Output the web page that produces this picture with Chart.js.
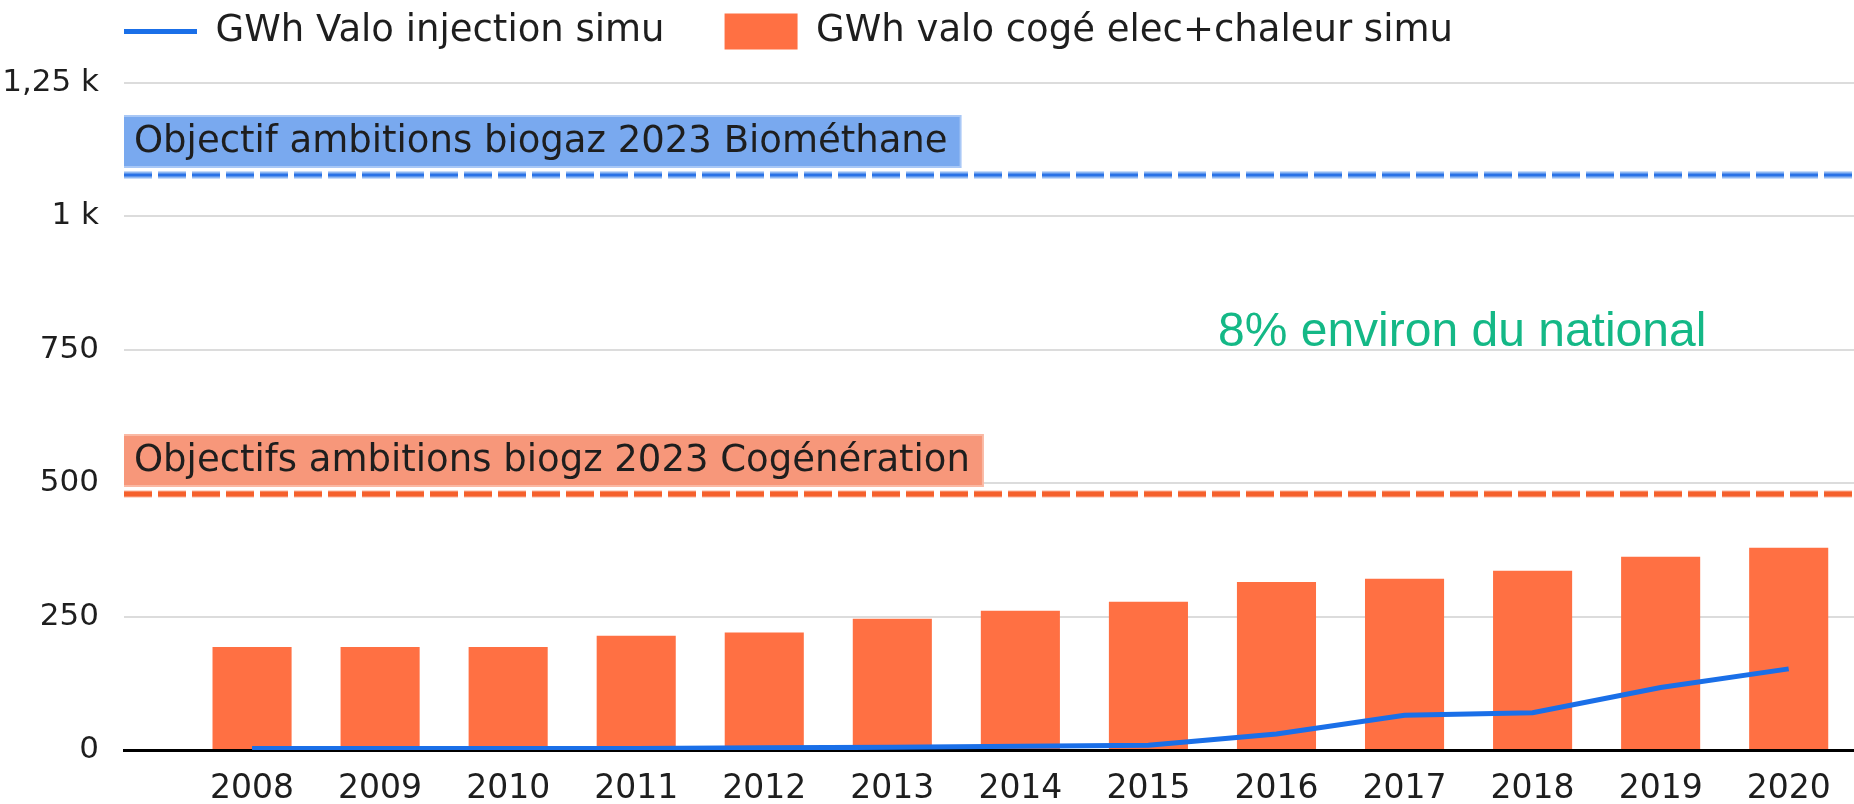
<!DOCTYPE html>
<html>
<head>
<meta charset="utf-8">
<script src="https://cdn.jsdelivr.net/npm/chart.js@4"></script>
<style>
  html, body { margin: 0; padding: 0; background: #fff; overflow: hidden; }
  #wrap { width: 1854px; height: 804px; }
</style>
</head>
<body>
<div id="wrap"><canvas id="chart"></canvas></div>
<script>
// data
const years = [2008, 2009, 2010, 2011, 2012, 2013, 2014, 2015, 2016, 2017, 2018, 2019, 2020];
const injectionGwh = [3, 3, 3, 3, 4, 5, 7, 9, 30, 65, 70, 117, 152];
const cogenGwh = [193, 193, 193, 214, 220, 246, 261, 278, 315, 321, 336, 362, 379];
const yTickValues = [0, 250, 500, 750, 1000, 1250];
const seriesNames = ["GWh Valo injection simu", "GWh valo cogé elec+chaleur simu"];

// objectives (reference lines)
const targetBiomethane = 1077;
const targetCogen = 480;
const targetLabels = ["Objectif ambitions biogaz 2023 Biométhane", "Objectifs ambitions biogz 2023 Cogénération"];
const noteText = "8% environ du national";
const notePos = { x: 2017.45, y: 752 };

const FONT = "DejaVu Sans";

// reference lines + labels + green note
const targetLines = {
  id: "targetLines",
  afterDatasetsDraw(chart) {
    const { ctx, chartArea } = chart;
    const x = chart.scales.x;
    const y = chart.scales.y;

    function dashed(value, outer, inner, outerW, innerW) {
      const py = Math.round(y.getPixelForValue(value));
      ctx.save();
      ctx.setLineDash([28, 6]);
      ctx.lineWidth = outerW;
      ctx.strokeStyle = outer;
      ctx.beginPath();
      ctx.moveTo(chartArea.left, py);
      ctx.lineTo(chartArea.right, py);
      ctx.stroke();
      ctx.lineWidth = innerW;
      ctx.strokeStyle = inner;
      ctx.beginPath();
      ctx.moveTo(chartArea.left, py);
      ctx.lineTo(chartArea.right, py);
      ctx.stroke();
      ctx.restore();
      return py;
    }

    function label(text, lineY, bg, edge) {
      ctx.save();
      ctx.font = "37px '" + FONT + "'";
      const w = ctx.measureText(text).width + 22;
      const h = 49;
      const top = lineY - 9 - h;
      ctx.fillStyle = edge;
      ctx.fillRect(chartArea.left, top - 2, w + 2, h + 4);
      ctx.fillStyle = bg;
      ctx.fillRect(chartArea.left, top, w, h);
      ctx.fillStyle = "#1e1e1e";
      ctx.textBaseline = "middle";
      ctx.fillText(text, chartArea.left + 10, top + h / 2 + 1);
      ctx.restore();
    }

    const yb = dashed(targetBiomethane, "#8fb8f2", "#2a72e6", 7, 3);
    const yc = dashed(targetCogen, "#fbb49c", "#f5602c", 7, 5);
    label(targetLabels[0], yb, "#79a9ef", "#a9c8f6");
    label(targetLabels[1], yc, "#f7977a", "#fab9a4");

    ctx.save();
    ctx.font = "48px 'Liberation Sans'";
    ctx.fillStyle = "#14b886";
    ctx.textAlign = "center";
    ctx.textBaseline = "alphabetic";
    ctx.fillText(noteText, x.getPixelForValue(notePos.x), y.getPixelForValue(notePos.y) - 3);
    ctx.restore();
  }
};

// put the legend where the original has it
const legendPlace = {
  id: "legendPlace",
  beforeLayout(chart) {
    const lg = chart.legend;
    if (lg && !lg._patched) {
      const fit = lg.fit;
      lg.fit = function () {
        fit.call(this);
        this.height = 83;
      };
      lg._patched = true;
    }
  },
  afterLayout(chart) {
    const lg = chart.legend;
    const pad = lg.options.labels.padding;
    lg.left = chart.chartArea.left - pad;
    lg.top = 13 - pad;
    lg.bottom = 70;
  }
};

new Chart(document.getElementById("chart"), {
  type: "bar",
  data: {
    datasets: [
      {
        type: "line",
        label: seriesNames[0],
        data: years.map((yr, i) => ({ x: yr, y: injectionGwh[i] })),
        borderColor: "#1a6fe8",
        backgroundColor: "#1a6fe8",
        borderWidth: 5,
        tension: 0,
        pointRadius: 0,
        pointHoverRadius: 0,
        pointBorderWidth: 5,
        pointBorderColor: "#1a6fe8",
        pointStyle: "line",
      },
      {
        label: seriesNames[1],
        data: years.map((yr, i) => ({ x: yr, y: cogenGwh[i] })),
        backgroundColor: "#ff7043",
        borderWidth: 0,
        categoryPercentage: 0.8,
        barPercentage: 0.772,
        pointStyle: "rect",
      },
    ],
  },
  options: {
    responsive: true,
    maintainAspectRatio: false,
    animation: false,
    layout: { padding: 0 },
    scales: {
      x: {
        type: "linear",
        offset: false,
        min: years[0] - 1,
        max: years[years.length - 1] + 0.51,
        afterBuildTicks: (s) => {
          s.ticks = years.map((v) => ({ value: v }));
        },
        afterFit: (s) => {
          s.height = 54;
        },
        ticks: {
          autoSkip: false,
          maxRotation: 0,
          padding: 20,
          color: "#1e1e1e",
          font: { family: FONT, size: 33 },
          callback: (v) => String(v),
        },
        grid: { display: false, drawTicks: false },
        border: { display: true, color: "#000", width: 3 },
      },
      y: {
        min: 0,
        max: yTickValues[yTickValues.length - 1],
        afterBuildTicks: (s) => {
          s.ticks = yTickValues.map((v) => ({ value: v }));
        },
        afterFit: (s) => {
          s.width = 124;
        },
        ticks: {
          padding: 25,
          color: "#1e1e1e",
          font: { family: FONT, size: 31 },
          callback: (v) => (v >= 1000 ? String(v / 1000).replace(".", ",") + " k" : String(v)),
        },
        grid: { color: "#dcdcdc", lineWidth: 2, drawTicks: false },
        border: { display: false },
      },
    },
    plugins: {
      tooltip: { enabled: false },
      legend: {
        position: "top",
        align: "start",
        labels: {
          usePointStyle: true,
          pointStyleWidth: 73,
          boxHeight: 36,
          padding: 60,
          color: "#1e1e1e",
          font: { family: FONT, size: 37 },
        },
      },
    },
  },
  plugins: [legendPlace, targetLines],
});
</script>
</body>
</html>
